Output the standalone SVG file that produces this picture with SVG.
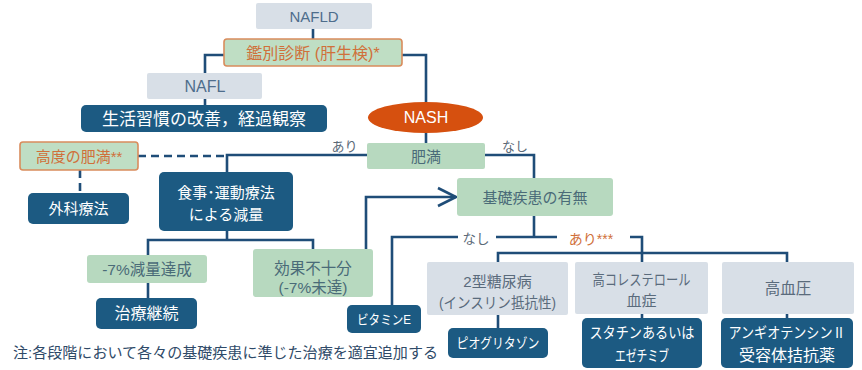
<svg xmlns="http://www.w3.org/2000/svg" width="862" height="370" viewBox="0 0 862 370">
<defs>
<style>
text{font-family:"Liberation Sans","Noto Sans CJK JP",sans-serif;text-anchor:middle}
.gray{fill:#d8dfe7}
.green{fill:#b7d9bf}
.og{fill:#bfdec4;stroke:#d98c5c;stroke-width:1.6}
.dark{fill:#1c5a82}
.tg{fill:#4e6d8c;font-size:15px}
.tgr{fill:#4a6b78;font-size:15px}
.to{fill:#d0703a;font-size:15px}
.tw{fill:#ffffff;font-size:15px}
.lbl{fill:#5b6a78;font-size:13px}
.ln{fill:none;stroke:#1f4d78;stroke-width:2.6}
.dash{fill:none;stroke:#1f4d78;stroke-width:2.6;stroke-dasharray:8 5}
</style>
</defs>
<rect width="862" height="370" fill="#ffffff"/>
<g id="connectors">
<path class="ln" d="M313,29V39"/>
<path class="ln" d="M224,55H205V73"/>
<path class="ln" d="M402,55H426V102"/>
<path class="ln" d="M205,99V105"/>
<path class="ln" d="M426,133V143"/>
<path class="ln" d="M367,155H227V172"/>
<path class="dash" d="M138,156H227"/>
<path class="dash" d="M80,170V193"/>
<path class="ln" d="M485,155H534V178"/>
<path class="ln" d="M227,231V240M148,255V240H313V249"/>
<path class="ln" d="M148,283V298"/>
<path class="ln" d="M366,249V197H456"/>
<path class="ln" d="M438,188L456,197L438,206"/>
<path class="ln" d="M534,216V237"/>
<path class="ln" d="M458,237H392V305"/>
<path class="ln" d="M496,237H557"/>
<path class="ln" d="M630,237H642V262"/>
<path class="ln" d="M498,262V253H787V262"/>
<path class="ln" d="M498,315V328"/>
<path class="ln" d="M642,314V318"/>
<path class="ln" d="M787,314V318"/>
</g>
<g id="nafld"><rect class="gray" x="256" y="3" width="116" height="26" rx="2"/><text class="tg" x="314" y="22" font-size="16">NAFLD</text></g>
<g id="kanbetsu"><rect class="og" x="224" y="39" width="178" height="27" rx="3"/><text class="to" x="313" y="58.5" style="font-size:16px">鑑別診断 (肝生検)*</text></g>
<g id="nafl"><rect class="gray" x="147" y="73" width="115" height="26" rx="2"/><text class="tg" x="205" y="92" style="font-size:16px">NAFL</text></g>
<g id="seikatsu"><rect class="dark" x="81" y="105" width="246" height="27" rx="5"/><text class="tw" x="204" y="124.5" style="font-size:17px">生活習慣の改善，経過観察</text></g>
<g id="nash"><ellipse cx="425.5" cy="117.5" rx="57.5" ry="15.5" fill="#d6500f"/><text class="tw" x="426" y="123" style="font-size:16px">NASH</text></g>
<g id="himan"><rect class="green" x="367" y="143" width="118" height="26" rx="2"/><text class="tgr" x="426" y="161.5">肥満</text></g>
<g id="kodo"><rect class="og" x="20" y="142" width="118" height="28" rx="3"/><text class="to" x="79" y="161.5">高度の肥満**</text></g>
<g id="geka"><rect class="dark" x="28" y="193" width="101" height="31" rx="5"/><text class="tw" x="78.5" y="214">外科療法</text></g>
<g id="shokuji"><rect class="dark" x="159" y="172" width="134" height="59" rx="5"/><text class="tw" x="226" y="198">食事･運動療法</text><text class="tw" x="226" y="220">による減量</text></g>
<g id="kiso"><rect class="green" x="457" y="178" width="156" height="38" rx="3"/><text class="tgr" x="535" y="202.5">基礎疾患の有無</text></g>
<g id="tassei"><rect class="green" x="87" y="255" width="120" height="28" rx="3"/><text class="tgr" x="147" y="274.5" style="font-size:15.5px">-7%減量達成</text></g>
<g id="kouka"><rect class="green" x="253" y="249" width="120" height="48" rx="3"/><text class="tgr" x="313" y="273.5" style="font-size:15.5px">効果不十分</text><text class="tgr" x="313" y="292.5" style="font-size:15.5px">(-7%未達)</text></g>
<g id="keizoku"><rect class="dark" x="96" y="298" width="101" height="31" rx="5"/><text class="tw" x="146.5" y="319" style="font-size:16px">治療継続</text></g>
<g id="vitE"><rect class="dark" x="347" y="305" width="74" height="28" rx="5"/><text class="tw" x="384" y="323.5" style="font-size:13px" textLength="54" lengthAdjust="spacingAndGlyphs">ビタミンE</text></g>
<g id="dm"><rect class="gray" x="427" y="262" width="141" height="53" rx="2"/><text class="tg" x="497.5" y="286.5" style="fill:#5a6b7c">2型糖尿病</text><text class="tg" x="497.5" y="308" style="fill:#5a6b7c" textLength="117" lengthAdjust="spacingAndGlyphs">(インスリン抵抗性)</text></g>
<g id="chol"><rect class="gray" x="575" y="262" width="133" height="52" rx="2"/><text class="tg" x="641.5" y="285" style="fill:#5a6b7c" textLength="98" lengthAdjust="spacingAndGlyphs">高コレステロール</text><text class="tg" x="641.5" y="306" style="fill:#5a6b7c">血症</text></g>
<g id="htn"><rect class="gray" x="722" y="262" width="132" height="52" rx="2"/><text class="tg" x="788" y="293.5" style="fill:#5a6b7c;font-size:15.5px">高血圧</text></g>
<g id="pio"><rect class="dark" x="448" y="328" width="100" height="30" rx="5"/><text class="tw" x="498" y="348" style="font-size:14px" textLength="83" lengthAdjust="spacingAndGlyphs">ピオグリタゾン</text></g>
<g id="statin"><rect class="dark" x="582" y="318" width="120" height="50" rx="5"/><text class="tw" x="642" y="337.5" textLength="105" lengthAdjust="spacingAndGlyphs">スタチンあるいは</text><text class="tw" x="642" y="360.5" textLength="54" lengthAdjust="spacingAndGlyphs">エゼチミブ</text></g>
<g id="arb"><rect class="dark" x="721" y="318" width="132" height="50" rx="5"/><text class="tw" x="787" y="337.5" textLength="117" lengthAdjust="spacingAndGlyphs">アンギオテンシンⅡ</text><text class="tw" x="787" y="360.5" style="font-size:16px">受容体拮抗薬</text></g>
<g id="labels">
<text class="lbl" x="344.5" y="151">あり</text>
<text class="lbl" x="515" y="151">なし</text>
<text class="lbl" x="476" y="243.5" style="font-size:13.5px">なし</text>
<text x="591" y="244" style="fill:#d0703a;font-size:14px">あり***</text>
</g>
<g id="note"><text x="13" y="358" style="text-anchor:start;fill:#2f4a68;font-size:14.5px" textLength="425" lengthAdjust="spacingAndGlyphs">注:各段階において各々の基礎疾患に準じた治療を適宜追加する</text></g>
</svg>
